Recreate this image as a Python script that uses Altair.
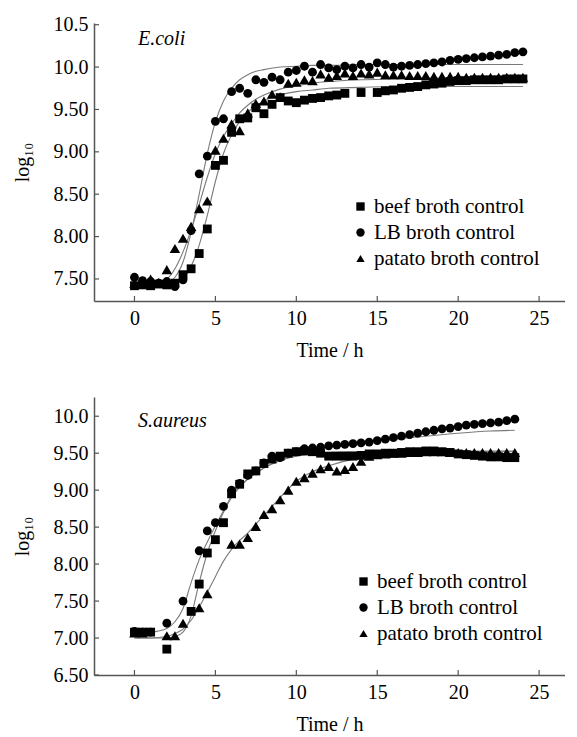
import altair as alt
import pandas as pd

FONT = "Liberation Serif, Times New Roman, serif"
SERIES = ["beef broth control", "LB broth control", "patato broth control"]
SHAPES = ["square", "circle", "triangle-up"]

# ---------------- E.coli panel ----------------
ecoli_t = [0, 0.5, 1, 1.5, 2, 2.5, 3, 3.5, 4, 4.5, 5, 5.5, 6, 6.5, 7, 7.5, 8, 8.5, 9, 9.5,
           10, 10.5, 11, 11.5, 12, 12.5, 13, 13.5, 14, 14.5, 15, 15.5, 16, 16.5, 17, 17.5,
           18, 18.5, 19, 19.5, 20, 20.5, 21, 21.5, 22, 22.5, 23, 23.5, 24]
ecoli_beef = [7.42, 7.43, 7.42, 7.44, 7.43, 7.45, 7.55, 7.62, 7.80, 8.09, 8.84, 8.90, 9.23, 9.39,
              9.40, 9.52, 9.45, 9.56, 9.64, 9.60, 9.58, 9.61, 9.63, 9.64, 9.66, 9.67, 9.69, None,
              9.70, None, 9.70, 9.72, 9.73, 9.75, 9.76, 9.77, 9.79, 9.80, 9.81, 9.83, 9.84, 9.84,
              9.85, 9.85, 9.85, 9.85, 9.86, 9.86, 9.86]
ecoli_lb = [7.52, 7.48, 7.47, 7.45, 7.47, 7.41, 7.49, 8.07, 8.74, 8.95, 9.36, 9.39, 9.71, 9.75,
            9.69, 9.85, 9.82, 9.88, 9.85, 9.94, 9.96, 10.01, 9.94, 10.03, 9.99, 9.97, 10.01, 9.99,
            10.03, 10.00, 10.05, 10.03, 10.00, 10.01, 10.02, 10.03, 10.04, 10.05, 10.06, 10.08,
            10.09, 10.10, 10.11, 10.12, 10.13, 10.14, 10.15, 10.17, 10.18]
ecoli_pot = [7.45, 7.44, 7.50, 7.46, 7.61, 7.86, 7.98, 8.12, 8.33, 8.42, 9.02, 9.16, 9.33, 9.25,
             9.46, 9.57, 9.60, 9.68, 9.65, 9.81, 9.82, 9.85, 9.84, 9.92, 9.88, 9.90, 9.93, 9.90,
             9.93, 9.92, 9.94, 9.91, 9.91, 9.91, 9.90, 9.90, 9.90, 9.89, 9.89, 9.89, 9.89, 9.88,
             9.88, 9.88, 9.88, 9.88, 9.88, 9.88, 9.88]

ecoli_fit_t = [0, 1, 2, 2.5, 3, 3.5, 4, 4.5, 5, 5.5, 6, 6.5, 7, 7.5, 8, 9, 10, 11, 12, 14, 16, 18, 20, 22, 24]
ecoli_fit_lb = [7.45, 7.45, 7.46, 7.52, 7.70, 8.05, 8.50, 8.98, 9.35, 9.60, 9.75, 9.85, 9.91, 9.95,
                9.97, 10.00, 10.01, 10.02, 10.02, 10.03, 10.03, 10.03, 10.03, 10.03, 10.03]
ecoli_fit_pot = [7.43, 7.44, 7.50, 7.62, 7.82, 8.08, 8.38, 8.70, 8.98, 9.18, 9.33, 9.46, 9.55, 9.62,
                 9.67, 9.74, 9.78, 9.81, 9.83, 9.85, 9.86, 9.87, 9.87, 9.87, 9.87]
ecoli_fit_beef = [7.40, 7.40, 7.41, 7.43, 7.50, 7.65, 7.90, 8.25, 8.65, 8.98, 9.20, 9.36, 9.47, 9.54,
                  9.60, 9.67, 9.71, 9.73, 9.75, 9.76, 9.77, 9.77, 9.77, 9.77, 9.77]

# ---------------- S.aureus panel ----------------
saur_t = [0, 0.5, 1, 1.5, 2, 2.5, 3, 3.5, 4, 4.5, 5, 5.5, 6, 6.5, 7, 7.5, 8, 8.5, 9, 9.5,
          10, 10.5, 11, 11.5, 12, 12.5, 13, 13.5, 14, 14.5, 15, 15.5, 16, 16.5, 17, 17.5,
          18, 18.5, 19, 19.5, 20, 20.5, 21, 21.5, 22, 22.5, 23, 23.5]
saur_beef = [7.08, 7.08, 7.08, None, 6.85, None, None, 7.36, 7.73, 8.15, 8.33, 8.56, 8.95, 9.08,
             9.22, 9.26, 9.36, 9.42, 9.46, 9.50, 9.52, 9.53, 9.52, 9.50, 9.46, 9.46, 9.46, 9.46,
             9.47, 9.49, 9.49, 9.50, 9.50, 9.51, 9.52, 9.52, 9.53, 9.53, 9.52, 9.51, 9.49, 9.48,
             9.47, 9.46, 9.45, 9.45, 9.44, 9.44]
saur_lb = [7.09, 7.08, 7.08, None, 7.20, None, 7.50, None, 8.18, 8.45, 8.56, 8.78, 9.00, 9.09,
           9.20, 9.26, 9.37, 9.46, 9.44, 9.50, 9.52, 9.56, 9.57, 9.58, 9.60, 9.61, 9.62, 9.63,
           9.64, 9.65, 9.67, 9.69, 9.71, 9.73, 9.75, 9.77, 9.79, 9.81, 9.83, 9.84, 9.86, 9.88,
           9.89, 9.90, 9.91, 9.92, 9.94, 9.96]
saur_pot = [7.07, 7.07, None, None, 7.03, 7.03, 7.20, None, 7.41, 7.60, None, None, 8.27, 8.27,
            8.36, 8.51, 8.67, 8.75, 8.87, 9.00, 9.12, 9.17, 9.23, 9.29, 9.32, 9.26, 9.28, 9.32,
            9.39, 9.46, 9.48, 9.49, 9.50, 9.50, 9.51, 9.51, 9.52, 9.52, 9.52, 9.51, 9.51, 9.51,
            9.51, 9.51, 9.51, 9.51, 9.51, 9.51]

saur_fit_t = [0, 1, 2, 2.5, 3, 3.5, 4, 4.5, 5, 5.5, 6, 6.5, 7, 7.5, 8, 9, 10, 11, 12, 14, 16, 18, 20, 22, 23.5]
saur_fit_lb = [7.07, 7.08, 7.13, 7.22, 7.40, 7.75, 8.06, 8.30, 8.52, 8.72, 8.92, 9.05, 9.15, 9.23,
               9.30, 9.40, 9.48, 9.54, 9.58, 9.64, 9.69, 9.73, 9.77, 9.80, 9.81]
saur_fit_beef = [7.00, 7.00, 7.00, 7.02, 7.08, 7.30, 7.75, 8.15, 8.45, 8.70, 8.90, 9.04, 9.15, 9.23,
                 9.30, 9.40, 9.46, 9.49, 9.51, 9.52, 9.53, 9.53, 9.53, 9.53, 9.53]
saur_fit_pot = [7.00, 7.00, 7.02, 7.06, 7.12, 7.24, 7.42, 7.62, 7.83, 8.04, 8.20, 8.32, 8.42, 8.54,
                8.66, 8.90, 9.12, 9.25, 9.33, 9.44, 9.49, 9.51, 9.52, 9.52, 9.52]

x_ticks = [0, 5, 10, 15, 20, 25]
ecoli_yticks = [7.5, 8.0, 8.5, 9.0, 9.5, 10.0, 10.5]
saur_yticks = [6.5, 7.0, 7.5, 8.0, 8.5, 9.0, 9.5, 10.0]

W, H = 471, 278
AXIS_COLOR = "#555555"


def long_points(times, beef, lb, pot):
    rows = []
    for name, vals in zip(SERIES, [beef, lb, pot]):
        for t, v in zip(times, vals):
            if v is not None:
                rows.append({"t": t, "v": v, "series": name})
    return pd.DataFrame(rows)


def panel(times, beef, lb, pot, ft, fb, fl, fp, ydom, yticks, label, lx, ly):
    pts = long_points(times, beef, lb, pot)
    fits = long_points(ft, fb, fl, fp)
    xenc = alt.X("t:Q",
                 scale=alt.Scale(domain=[-2.5, 26.6], nice=False, zero=False),
                 axis=alt.Axis(values=x_ticks, title="Time / h", ticks=False, tickSize=0,
                               labelPadding=7, titlePadding=12, grid=False,
                               labelFont=FONT, labelFontSize=20, labelColor="black",
                               titleFont=FONT, titleFontSize=20, titleColor="black",
                               titleFontWeight="normal",
                               domainColor=AXIS_COLOR, domainWidth=1.5))
    yenc = alt.Y("v:Q",
                 scale=alt.Scale(domain=ydom, nice=False, zero=False),
                 axis=alt.Axis(values=yticks, title="log₁₀", ticks=False, tickSize=0,
                               labelPadding=6, titlePadding=21, grid=False,
                               labelFont=FONT, labelFontSize=20, labelColor="black",
                               titleFont=FONT, titleFontSize=20, titleColor="black",
                               titleFontWeight="normal",
                               domainColor=AXIS_COLOR, domainWidth=1.5,
                               labelExpr="datum.value >= 10 ? format(datum.value, '.1f') : format(datum.value, '.2f')"))
    shape = alt.Shape("series:N", scale=alt.Scale(domain=SERIES, range=SHAPES),
                      legend=alt.Legend(title=None, orient="none", legendX=lx, legendY=ly,
                                        labelFont=FONT, labelFontSize=21, labelColor="black",
                                        symbolSize=70, labelOffset=3, rowPadding=4,
                                        labelLimit=300))
    lines = alt.Chart(fits).mark_line(color="#7a7a7a", strokeWidth=1.1, interpolate="monotone").encode(
        x=xenc, y=yenc, detail="series:N")
    sq_circ = alt.Chart(pts).transform_filter(
        alt.FieldOneOfPredicate(field="series", oneOf=SERIES[:2])
    ).mark_point(filled=True, color="black", opacity=1, size=78).encode(x=xenc, y=yenc, shape=shape)
    tri = alt.Chart(pts).transform_filter(
        alt.FieldEqualPredicate(field="series", equal=SERIES[2])
    ).mark_point(filled=True, color="black", opacity=1, size=110).encode(x=xenc, y=yenc, shape=shape)
    xt = alt.Chart(pd.DataFrame({"t": x_ticks})).mark_rule(color=AXIS_COLOR, strokeWidth=1.2).encode(
        x=xenc, y=alt.value(H), y2=alt.value(H - 5))
    yt = alt.Chart(pd.DataFrame({"v": yticks})).mark_rule(color=AXIS_COLOR, strokeWidth=1.2).encode(
        y=yenc, x=alt.value(0), x2=alt.value(5))
    return alt.layer(lines, sq_circ, tri, xt, yt).properties(
        width=W, height=H,
        title=alt.TitleParams(label, anchor="start", frame="group", font=FONT, fontSize=20,
                              fontStyle="italic", fontWeight="normal", color="black",
                              dx=44, dy=34, orient="top", offset=0),
    )


top = panel(ecoli_t, ecoli_beef, ecoli_lb, ecoli_pot,
            ecoli_fit_t, ecoli_fit_beef, ecoli_fit_lb, ecoli_fit_pot,
            [7.24, 10.52], ecoli_yticks, "E.coli", 256, 173)
bottom = panel(saur_t, saur_beef, saur_lb, saur_pot,
               saur_fit_t, saur_fit_beef, saur_fit_lb, saur_fit_pot,
               [6.5, 10.26], saur_yticks, "S.aureus", 259, 174)

chart = alt.vconcat(top, bottom, spacing=37).resolve_scale(
    shape="independent"
).properties(
    padding={"left": 4, "top": 6, "right": 0, "bottom": 0}
).configure_view(stroke=None).configure_legend(
    symbolFillColor="black", symbolStrokeColor="black"
)

chart.save("out.html", embed_options={"renderer": "svg", "actions": False})
